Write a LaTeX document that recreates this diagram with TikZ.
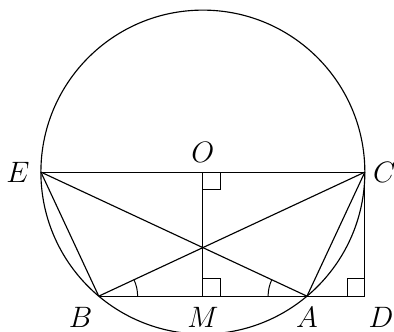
\documentclass[tikz,border=0pt]{standalone}
\usetikzlibrary{positioning,calc,angles}

\begin{document}
\begin{tikzpicture}[
  line width=0.8pt,
  lbl/.style={font=\fontsize{20}{24}\selectfont, inner sep=2pt},
  rmark/.style={line width=0.7pt},
  marc/.style={draw, line width=0.7pt, angle radius=0.96cm}
]
\useasboundingbox (-5.01,-3.93) rectangle (4.72,4.25);
\coordinate (O) at (0,0);
\coordinate (E) at (180:4);
\coordinate (C) at (0:4);
\coordinate (B) at (230:4);
\coordinate (A) at (-50:4);
\coordinate (M) at (O |- A);
\coordinate (D) at (C |- A);
\coordinate (X) at (intersection of E--A and C--B);
\draw (O) circle (4);
\draw (E) -- (C);
\draw (O) -- (M);
\draw (E) -- (B);
\draw (C) -- (A);
\draw (E) -- (A);
\draw (C) -- (B);
\draw (B) -- (D) -- (C);
% right angle marks
\draw[rmark] ($(O)+(0,-0.44)$) -- ++(0.44,0) -- ++(0,0.44);
\draw[rmark] ($(M)+(0,0.44)$) -- ++(0.44,0) -- ++(0,-0.44);
\draw[rmark] ($(D)+(0,0.44)$) -- ++(-0.44,0) -- ++(0,-0.44);
% angle arcs
\pic[marc] {angle = A--B--X};
\pic[marc] {angle = X--A--B};
% labels
\node[lbl, left=0.2cm of E] (lE) {$E$};
\node[lbl, right=0.12cm of C] (lC) {$C$};
\node[lbl, above=0.15cm of O] (lO) {$O$};
\node[lbl, below=0.18cm of B, xshift=-0.45cm] (lB) {$B$};
\node[lbl, below=0.18cm of M] (lM) {$M$};
\node[lbl, below=0.18cm of A] (lA) {$A$};
\node[lbl, below=0.18cm of D, xshift=0.4cm] (lD) {$D$};
\end{tikzpicture}
\end{document}
